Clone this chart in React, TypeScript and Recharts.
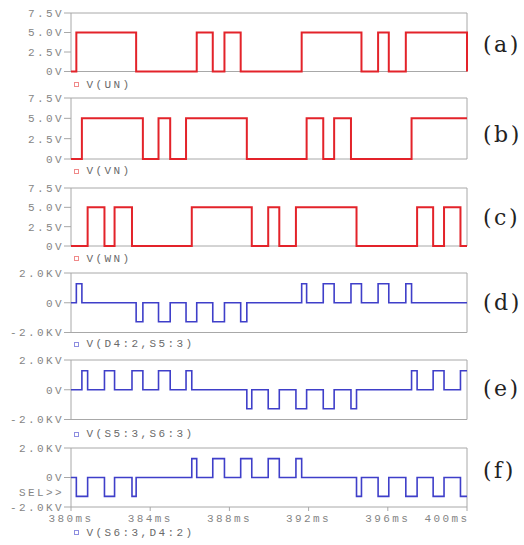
import React from "react";
import { LineChart, Line, XAxis, YAxis, ReferenceArea } from "recharts";

// ---- data (ms, volts) ----
const unTimes = [380, 380.27, 383.29, 386.35, 387.16, 387.75, 388.57, 391.65, 394.67, 395.51, 396.05, 396.91, 400];
const unLevels = [0, 5, 0, 5, 0, 5, 0, 5, 0, 5, 0, 5, 0];

const vnTimes = [380, 380.55, 383.63, 384.42, 385.01, 385.81, 388.88, 391.9, 392.74, 393.29, 394.14, 397.2, 400];
const vnLevels = [0, 5, 0, 5, 0, 5, 0, 5, 0, 5, 0, 5, 5];

const wnTimes = [380, 380.84, 381.69, 382.2, 383.08, 386.1, 389.13, 389.96, 390.52, 391.36, 394.42, 397.48, 398.29, 398.84, 399.67, 400];
const wnLevels = [0, 5, 0, 5, 0, 5, 0, 5, 0, 5, 0, 5, 0, 5, 0, 0];

const dTimes = [380, 380.27, 380.55, 383.29, 383.63, 384.42, 385.01, 385.81, 386.35, 387.16, 387.75, 388.57, 388.88, 391.65, 391.9, 392.74, 393.29, 394.14, 394.67, 395.51, 396.05, 396.91, 397.2, 400];
const dLevels = [0, 1280, 0, -1280, 0, -1280, 0, -1280, 0, -1280, 0, -1280, 0, 1280, 0, 1280, 0, 1280, 0, 1280, 0, 1280, 0, 0];

const eTimes = [380, 380.55, 380.84, 381.69, 382.2, 383.08, 383.63, 384.42, 385.01, 385.81, 386.1, 388.88, 389.13, 389.96, 390.52, 391.36, 391.9, 392.74, 393.29, 394.14, 394.42, 397.2, 397.48, 398.29, 398.84, 399.67, 400];
const eLevels = [0, 1280, 0, 1280, 0, 1280, 0, 1280, 0, 1280, 0, -1280, 0, -1280, 0, -1280, 0, -1280, 0, -1280, 0, 1280, 0, 1280, 0, 1280, 1280];

const fTimes = [380, 380.27, 380.84, 381.69, 382.2, 383.08, 383.29, 386.1, 386.35, 387.16, 387.75, 388.57, 389.13, 389.96, 390.52, 391.36, 391.65, 394.42, 394.67, 395.51, 396.05, 396.91, 397.48, 398.29, 398.84, 399.67, 400];
const fLevels = [0, -1280, 0, -1280, 0, -1280, 0, 1280, 0, 1280, 0, 1280, 0, 1280, 0, 1280, 0, -1280, 0, -1280, 0, -1280, 0, -1280, 0, -1280, -1280];

const voltTicks = [0, 2.5, 5, 7.5];
const kvTicks = [-2000, 0, 2000];
const timeTicks = [380, 384, 388, 392, 396, 400];

const legendNames = ["V(UN)", "V(VN)", "V(WN)", "V(D4:2,S5:3)", "V(S5:3,S6:3)", "V(S6:3,D4:2)"];
const panelLetters = ["(a)", "(b)", "(c)", "(d)", "(e)", "(f)"];

// ---- styling / layout ----
const RED = "#e3232a";
const BLUE = "#3f3fc9";
const GRID = "#a8a8a8";
const MONO = "'Liberation Mono', 'DejaVu Sans Mono', monospace";
const FS = 11;
const LS = 2.4;

const build = (t: number[], v: number[]) => t.map((x, i) => ({ t: x, v: v[i] }));

const panels = [
  { times: unTimes, levels: unLevels, color: RED, kind: "v", top: 13, bottom: 71.5, legendY: 84.5, letterY: 45 },
  { times: vnTimes, levels: vnLevels, color: RED, kind: "v", top: 98, bottom: 159, legendY: 171, letterY: 135 },
  { times: wnTimes, levels: wnLevels, color: RED, kind: "v", top: 187.5, bottom: 245.5, legendY: 258.5, letterY: 218 },
  { times: dTimes, levels: dLevels, color: BLUE, kind: "kv", top: 272.5, bottom: 332, legendY: 344.3, letterY: 302.5 },
  { times: eTimes, levels: eLevels, color: BLUE, kind: "kv", top: 360, bottom: 419.5, legendY: 434, letterY: 389 },
  { times: fTimes, levels: fLevels, color: BLUE, kind: "kv", top: 447.5, bottom: 506.5, legendY: 532.5, letterY: 471 },
];

const fmtV = (v: number) => (v === 0 ? "0V" : v.toFixed(1) + "V");
const fmtKV = (v: number) => (v === 0 ? "0V" : (v / 1000).toFixed(1) + "KV");

const TimeTick = (props: any) => {
  const { x, y, payload } = props;
  const isLast = payload.value === 400;
  return (
    <text
      x={isLast ? x + LS : x}
      y={y}
      dy="0.71em"
      textAnchor={isLast ? "end" : "middle"}
      fill="#858585"
      fontFamily={MONO}
      fontSize={FS}
      letterSpacing={LS}
    >
      {payload.value + "ms"}
    </text>
  );
};

const MT = 10;
const MB = 10;

export default function App() {
  return (
    <div style={{ position: "absolute", left: 0, top: 0, width: 524, height: 545, background: "#fff", overflow: "hidden" }}>
      {panels.map((p, i) => {
        const isLast = i === panels.length - 1;
        const boxH = p.bottom - p.top;
        const xh = isLast ? 22 : 0;
        const h = MT + boxH + xh + MB;
        const isV = p.kind === "v";
        const yDomain = isV ? [0, 7.5] : [-2000, 2000];
        return (
          <div key={i} style={{ position: "absolute", left: 0, top: p.top - MT, width: 524, height: h }}>
            <LineChart
              width={524}
              height={h}
              data={build(p.times, p.levels)}
              margin={{ top: MT, right: 57, left: 1, bottom: MB }}
              style={{ overflow: "visible" }}
            >
              <XAxis
                dataKey="t"
                type="number"
                domain={[380, 400]}
                ticks={timeTicks}
                hide={!isLast}
                height={xh}
                axisLine={false}
                tickLine={{ stroke: GRID }}
                tickSize={4}
                tickMargin={3}
                tick={<TimeTick />}
                interval={0}
              />
              <YAxis
                type="number"
                domain={yDomain}
                ticks={isV ? voltTicks : kvTicks}
                tickFormatter={isV ? fmtV : fmtKV}
                width={70}
                axisLine={false}
                tickLine={{ stroke: GRID }}
                tickSize={7}
                tickMargin={0}
                interval={0}
                tick={{ fill: "#858585", fontFamily: MONO, fontSize: FS, letterSpacing: LS }}
              />
              <ReferenceArea
                x1={380}
                x2={400}
                y1={yDomain[0]}
                y2={yDomain[1]}
                fill="none"
                fillOpacity={0}
                stroke={GRID}
                strokeWidth={1}
              />
              <Line
                type="stepAfter"
                dataKey="v"
                stroke={p.color}
                strokeWidth={isV ? 2 : 1.6}
                dot={false}
                activeDot={false}
                isAnimationActive={false}
              />
            </LineChart>
          </div>
        );
      })}
      {panels.map((p, i) => (
        <div
          key={"lg" + i}
          style={{ position: "absolute", left: 73.5, top: p.legendY - 6, height: 12, display: "flex", alignItems: "center" }}
        >
          <span
            style={{
              display: "inline-block",
              width: 3,
              height: 3,
              border: "1px solid " + (p.color === RED ? "#f08a8a" : "#8e8ee0"),
              marginRight: 8,
            }}
          />
          <span style={{ fontFamily: MONO, fontSize: FS, letterSpacing: LS, color: "#6a6a6a", lineHeight: "12px", whiteSpace: "pre" }}>
            {legendNames[i]}
          </span>
        </div>
      ))}
      {panels.map((p, i) => (
        <div
          key={"lt" + i}
          style={{
            position: "absolute",
            left: 483,
            top: p.letterY - 14,
            height: 28,
            lineHeight: "28px",
            fontFamily: "'DejaVu Serif', serif",
            fontSize: 22,
            letterSpacing: 2.5,
            color: "#222",
          }}
        >
          {panelLetters[i]}
        </div>
      ))}
      <div
        style={{
          position: "absolute",
          right: 524 - 64,
          top: 493 - 6,
          lineHeight: "12px",
          fontFamily: MONO,
          fontSize: FS,
          letterSpacing: LS,
          color: "#858585",
        }}
      >
        SEL&gt;&gt;
      </div>
    </div>
  );
}
